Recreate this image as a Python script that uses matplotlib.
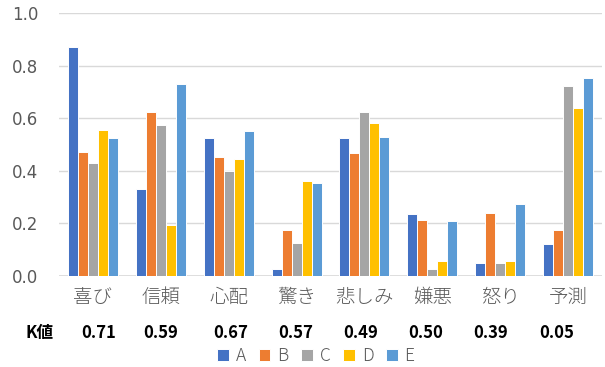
import matplotlib
matplotlib.use("Agg")
import matplotlib.pyplot as plt
import numpy as np

plt.rcParams['font.family'] = ['Noto Sans CJK JP', 'DejaVu Sans']

# Chart data
categories = ['喜び', '信頼', '心配', '驚き', '悲しみ', '嫌悪', '怒り', '予測']
series_names = ['A', 'B', 'C', 'D', 'E']
values_a = [0.872, 0.332, 0.525, 0.027, 0.523, 0.234, 0.049, 0.123]
values_b = [0.473, 0.624, 0.451, 0.175, 0.469, 0.212, 0.238, 0.175]
values_c = [0.428, 0.574, 0.400, 0.125, 0.622, 0.027, 0.049, 0.724]
values_d = [0.555, 0.194, 0.444, 0.361, 0.583, 0.056, 0.056, 0.638]
values_e = [0.525, 0.731, 0.553, 0.354, 0.527, 0.210, 0.273, 0.752]
k_label = 'K値'
k_values = ['0.71', '0.59', '0.67', '0.57', '0.49', '0.50', '0.39', '0.05']

colors = ['#4472C4', '#ED7D31', '#A5A5A5', '#FFC000', '#5B9BD5']
all_values = [values_a, values_b, values_c, values_d, values_e]

fig = plt.figure(figsize=(6.05, 3.67), dpi=100)
ax = fig.add_axes([59 / 605, 1 - 276 / 367, 543 / 605, 263 / 367])

x = np.arange(len(categories))
width = 0.147
for i, vals in enumerate(all_values):
    ax.bar(x + (i - 2) * width, vals, width, color=colors[i], label=series_names[i],
           edgecolor='white', linewidth=0.7, zorder=3)

ax.set_xlim(-0.5, len(categories) - 0.5)
ax.set_ylim(0, 1.0)
ax.set_yticks(np.arange(0, 1.01, 0.2))
ax.set_yticklabels(['%.1f' % v for v in np.arange(0, 1.01, 0.2)])
ax.set_xticks(x)
ax.set_xticklabels(categories, fontsize=14, fontweight='light')
ax.tick_params(axis='y', length=0, pad=15, labelsize=12, labelcolor='#595959')
ax.tick_params(axis='x', length=0, pad=8, labelcolor='#595959')
for lbl in ax.get_yticklabels():
    lbl.set_family(['DejaVu Sans'])
    lbl.set_fontsize(12)

ax.grid(axis='y', color='#D9D9D9', linewidth=1, zorder=0)
for s in ax.spines.values():
    s.set_visible(False)
ax.axhline(0, color='#D9D9D9', linewidth=1.2, zorder=2)

# K value row
k_x = [99, 161, 231, 296, 361, 426, 491, 557]
fig.text(40 / 605, 1 - 333 / 367, k_label, ha='center', va='center',
         fontsize=12, fontweight='bold', color='black')
for px, kv in zip(k_x, k_values):
    fig.text(px / 605, 1 - 333 / 367, kv, ha='center', va='center',
             fontsize=12, fontweight='bold', color='black')

# Legend
leg = fig.legend(loc='center', bbox_to_anchor=(316 / 605, 1 - 356 / 367), ncol=5,
                 frameon=False, fontsize=12.5, handlelength=0.65, handleheight=0.65,
                 handletextpad=0.4, columnspacing=0.75, borderaxespad=0)
for t in leg.get_texts():
    t.set_color('#595959')
    t.set_fontweight('light')

fig.savefig('out.png', dpi=100)
